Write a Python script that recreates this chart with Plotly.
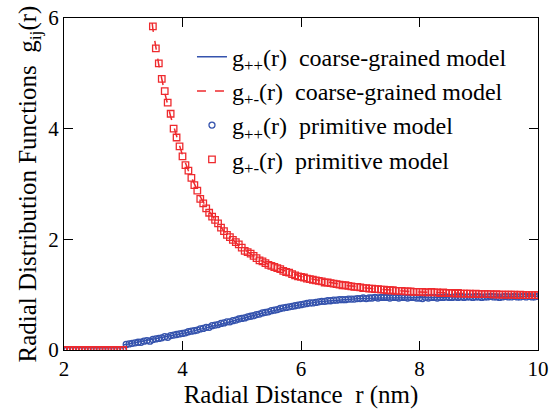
import plotly.graph_objects as go

# ---- primitive-model data (markers), r in nm ----
r_prim = [
    2.00, 2.05, 2.10, 2.15, 2.20, 2.25, 2.30, 2.35, 2.40, 2.45,
    2.50, 2.55, 2.60, 2.65, 2.70, 2.75, 2.80, 2.85, 2.90, 2.95,
    3.00, 3.05, 3.10, 3.15, 3.20, 3.25, 3.30, 3.35, 3.40, 3.45,
    3.50, 3.55, 3.60, 3.65, 3.70, 3.75, 3.80, 3.85, 3.90, 3.95,
    4.00, 4.05, 4.10, 4.15, 4.20, 4.25, 4.30, 4.35, 4.40, 4.45,
    4.50, 4.55, 4.60, 4.65, 4.70, 4.75, 4.80, 4.85, 4.90, 4.95,
    5.00, 5.05, 5.10, 5.15, 5.20, 5.25, 5.30, 5.35, 5.40, 5.45,
    5.50, 5.55, 5.60, 5.65, 5.70, 5.75, 5.80, 5.85, 5.90, 5.95,
    6.00, 6.05, 6.10, 6.15, 6.20, 6.25, 6.30, 6.35, 6.40, 6.45,
    6.50, 6.55, 6.60, 6.65, 6.70, 6.75, 6.80, 6.85, 6.90, 6.95,
    7.00, 7.05, 7.10, 7.15, 7.20, 7.25, 7.30, 7.35, 7.40, 7.45,
    7.50, 7.55, 7.60, 7.65, 7.70, 7.75, 7.80, 7.85, 7.90, 7.95,
    8.00, 8.05, 8.10, 8.15, 8.20, 8.25, 8.30, 8.35, 8.40, 8.45,
    8.50, 8.55, 8.60, 8.65, 8.70, 8.75, 8.80, 8.85, 8.90, 8.95,
    9.00, 9.05, 9.10, 9.15, 9.20, 9.25, 9.30, 9.35, 9.40, 9.45,
    9.50, 9.55, 9.60, 9.65, 9.70, 9.75, 9.80, 9.85, 9.90, 9.95,
    10.00,
]

g_pp_prim = [
    0, 0, 0, 0, 0, 0, 0, 0, 0, 0,
    0, 0, 0, 0, 0, 0, 0, 0, 0, 0,
    0, 0.10, 0.11, 0.12, 0.13, 0.14, 0.14, 0.16, 0.17, 0.16,
    0.19, 0.20, 0.21, 0.22, 0.24, 0.23, 0.26, 0.27, 0.28, 0.29,
    0.30, 0.31, 0.33, 0.34, 0.35, 0.36, 0.38, 0.39, 0.41, 0.41,
    0.44, 0.45, 0.46, 0.48, 0.49, 0.51, 0.51, 0.53, 0.54, 0.56,
    0.57, 0.58, 0.60, 0.61, 0.62, 0.64, 0.65, 0.67, 0.68, 0.69,
    0.71, 0.72, 0.73, 0.75, 0.76, 0.77, 0.78, 0.79, 0.80, 0.81,
    0.82, 0.83, 0.84, 0.85, 0.85, 0.86, 0.87, 0.88, 0.88, 0.89,
    0.89, 0.90, 0.90, 0.91, 0.91, 0.91, 0.92, 0.92, 0.92, 0.93,
    0.93, 0.94, 0.93, 0.94, 0.94, 0.95, 0.94, 0.95, 0.95, 0.95,
    0.94, 0.95, 0.95, 0.94, 0.95, 0.95, 0.94, 0.95, 0.95, 0.94,
    0.94, 0.93, 0.95, 0.94, 0.95, 0.95, 0.94, 0.95, 0.95, 0.96,
    0.95, 0.95, 0.96, 0.95, 0.96, 0.95, 0.96, 0.96, 0.95, 0.96,
    0.96, 0.95, 0.96, 0.96, 0.97, 0.96, 0.96, 0.95, 0.96, 0.97,
    0.96, 0.96, 0.97, 0.96, 0.96, 0.97, 0.96, 0.97, 0.96, 0.96,
    0.97,
]

g_pm_prim = [
    0, 0, 0, 0, 0, 0, 0, 0, 0, 0,
    0, 0, 0, 0, 0, 0, 0, 0, 0, 0,
    0, 14.0, 12.4, 11.0, 9.9, 8.9, 8.1, 7.4, 6.8, 6.3,
    5.85, 5.45, 5.18, 4.90, 4.68, 4.47, 4.27, 4.00, 3.84, 3.68,
    3.50, 3.34, 3.24, 3.11, 2.98, 2.88, 2.73, 2.65, 2.56, 2.48,
    2.41, 2.35, 2.29, 2.21, 2.15, 2.08, 2.04, 1.99, 1.95, 1.91,
    1.85, 1.79, 1.77, 1.74, 1.70, 1.66, 1.62, 1.60, 1.57, 1.54,
    1.52, 1.50, 1.48, 1.46, 1.43, 1.41, 1.40, 1.37, 1.35, 1.33,
    1.32, 1.31, 1.29, 1.28, 1.27, 1.26, 1.25, 1.24, 1.22, 1.22,
    1.21, 1.20, 1.19, 1.18, 1.17, 1.17, 1.16, 1.15, 1.14, 1.14,
    1.13, 1.12, 1.12, 1.11, 1.11, 1.10, 1.10, 1.09, 1.09, 1.08,
    1.08, 1.08, 1.07, 1.07, 1.07, 1.06, 1.06, 1.06, 1.05, 1.05,
    1.05, 1.05, 1.04, 1.04, 1.05, 1.04, 1.04, 1.03, 1.04, 1.03,
    1.03, 1.03, 1.02, 1.03, 1.02, 1.02, 1.02, 1.02, 1.01, 1.02,
    1.01, 1.01, 1.01, 1.01, 1.01, 1.00, 1.01, 1.00, 1.00, 1.00,
    1.00, 1.00, 1.00, 0.99, 1.00, 0.99, 0.99, 0.99, 0.99, 0.99,
    0.99,
]

# ---- coarse-grained model data (lines) ----
r_cg_pp = [
    3.0, 3.1, 3.2, 3.3, 3.4, 3.5, 3.6, 3.7, 3.8, 3.9,
    4.0, 4.1, 4.2, 4.3, 4.4, 4.5, 4.6, 4.7, 4.8, 4.9,
    5.0, 5.1, 5.2, 5.3, 5.4, 5.5, 5.6, 5.7, 5.8, 5.9,
    6.0, 6.1, 6.2, 6.3, 6.4, 6.5, 6.6, 6.7, 6.8, 6.9,
    7.0, 7.1, 7.2, 7.3, 7.4, 7.5, 7.6, 7.7, 7.8, 7.9,
    8.0, 8.1, 8.2, 8.3, 8.4, 8.5, 8.6, 8.7, 8.8, 8.9,
    9.0, 9.1, 9.2, 9.3, 9.4, 9.5, 9.6, 9.7, 9.8, 9.9,
    10.0,
]
g_pp_cg = [
    0.09, 0.11, 0.13, 0.15, 0.17, 0.19, 0.21, 0.23, 0.25, 0.28,
    0.30, 0.32, 0.35, 0.37, 0.40, 0.43, 0.45, 0.48, 0.51, 0.54,
    0.57, 0.59, 0.62, 0.65, 0.68, 0.70, 0.73, 0.75, 0.78, 0.80,
    0.82, 0.84, 0.85, 0.87, 0.88, 0.89, 0.90, 0.91, 0.92, 0.92,
    0.93, 0.93, 0.94, 0.94, 0.94, 0.94, 0.94, 0.94, 0.95, 0.95,
    0.95, 0.95, 0.95, 0.95, 0.95, 0.96, 0.96, 0.96, 0.96, 0.96,
    0.96, 0.96, 0.96, 0.96, 0.96, 0.97, 0.97, 0.97, 0.97, 0.97,
    0.97,
]

r_cg_pm = [
    3.2, 3.3, 3.4, 3.5, 3.6, 3.7, 3.8, 3.9,
    4.0, 4.1, 4.2, 4.3, 4.4, 4.5, 4.6, 4.7, 4.8, 4.9,
    5.0, 5.1, 5.2, 5.3, 5.4, 5.5, 5.6, 5.7, 5.8, 5.9,
    6.0, 6.1, 6.2, 6.3, 6.4, 6.5, 6.6, 6.7, 6.8, 6.9,
    7.0, 7.1, 7.2, 7.3, 7.4, 7.5, 7.6, 7.7, 7.8, 7.9,
    8.0, 8.1, 8.2, 8.3, 8.4, 8.5, 8.6, 8.7, 8.8, 8.9,
    9.0, 9.1, 9.2, 9.3, 9.4, 9.5, 9.6, 9.7, 9.8, 9.9,
    10.0,
]
g_pm_cg = [
    9.8, 8.0, 6.75, 5.8, 5.15, 4.65, 4.22, 3.85,
    3.52, 3.24, 2.99, 2.77, 2.58, 2.42, 2.28, 2.15, 2.04, 1.94,
    1.85, 1.77, 1.70, 1.63, 1.57, 1.52, 1.48, 1.44, 1.40, 1.36,
    1.33, 1.30, 1.28, 1.25, 1.23, 1.21, 1.19, 1.18, 1.16, 1.15,
    1.13, 1.12, 1.11, 1.10, 1.09, 1.08, 1.07, 1.07, 1.06, 1.05,
    1.05, 1.04, 1.04, 1.04, 1.03, 1.03, 1.03, 1.02, 1.02, 1.02,
    1.01, 1.01, 1.01, 1.01, 1.00, 1.00, 1.00, 1.00, 0.99, 0.99,
    0.99,
]

x_tick_step = 2
y_tick_step = 2

BLUE = "#3553ad"
RED = "#ee2a2e"
FONT = "Liberation Serif"
NB = "\u00a0"

fig = go.Figure()
fig.add_trace(go.Scatter(
    x=r_cg_pp, y=g_pp_cg, mode="lines",
    line=dict(color=BLUE, width=1.5),
    name=f"g<sub>++</sub>(r){NB}{NB}coarse-grained model",
))
fig.add_trace(go.Scatter(
    x=r_cg_pm, y=g_pm_cg, mode="lines",
    line=dict(color=RED, width=1.5, dash="dash"),
    name=f"g<sub>+-</sub>(r){NB}{NB}coarse-grained model",
))
fig.add_trace(go.Scatter(
    x=r_prim, y=g_pp_prim, mode="markers",
    marker=dict(symbol="circle-open", size=6, color=BLUE, line=dict(width=1.3)),
    name=f"g<sub>++</sub>(r){NB}{NB}primitive model",
))
fig.add_trace(go.Scatter(
    x=r_prim, y=g_pm_prim, mode="markers",
    marker=dict(symbol="square-open", size=6.5, color=RED, line=dict(width=1.3)),
    name=f"g<sub>+-</sub>(r){NB}{NB}primitive model",
))

fig.update_xaxes(
    range=[2, 10], tickmode="linear", tick0=0, dtick=x_tick_step,
    showline=True, linecolor="black", linewidth=1.3, mirror="ticks",
    ticks="inside", ticklen=9, tickwidth=1.2, tickcolor="black",
    showgrid=False, zeroline=False,
    tickfont=dict(family=FONT, size=21),
    title=dict(text=f"Radial Distance{NB}{NB}r (nm)", standoff=4,
               font=dict(family=FONT, size=25)),
)
fig.update_yaxes(
    range=[0, 6], tickmode="linear", tick0=0, dtick=y_tick_step,
    showline=True, linecolor="black", linewidth=1.3, mirror="ticks",
    ticks="inside", ticklen=9, tickwidth=1.2, tickcolor="black",
    showgrid=False, zeroline=False,
    tickfont=dict(family=FONT, size=21),
    title=dict(text=f"Radial Distribution Functions{NB}{NB}g<sub>ij</sub>(r)", standoff=4,
               font=dict(family=FONT, size=25)),
)

fig.update_layout(
    width=549, height=414,
    font=dict(family=FONT, size=21, color="#000000"),
    margin=dict(l=64, r=11, t=18, b=64, autoexpand=False),
    plot_bgcolor="white", paper_bgcolor="white",
    showlegend=True,
    legend=dict(
        x=0.27, y=0.95, xanchor="left", yanchor="top",
        bgcolor="rgba(0,0,0,0)", borderwidth=0,
        font=dict(family=FONT, size=24),
        tracegroupgap=0,
    ),
)

fig.write_html("out.html")
